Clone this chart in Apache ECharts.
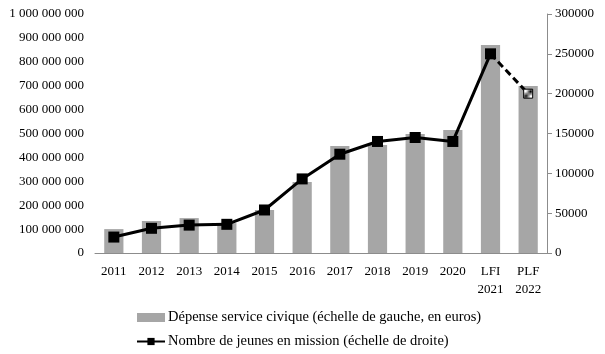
<!DOCTYPE html>
<html>
<head>
<meta charset="utf-8">
<script src="https://cdn.jsdelivr.net/npm/echarts@6/dist/echarts.min.js"></script>
<style>
  html, body { margin: 0; padding: 0; background: #fff; }
  #chart { width: 605px; height: 354px; }
</style>
</head>
<body>
<div id="chart"></div>
<script>
// données
const categories = ["2011", "2012", "2013", "2014", "2015", "2016", "2017", "2018", "2019", "2020", "LFI\n2021", "PLF\n2022"];
const depense = [100000000, 134000000, 146000000, 125000000, 180000000, 297000000, 448000000, 452000000, 498000000, 515000000, 870000000, 699000000];
const jeunes = [20000, 31000, 35000, 36000, 54000, 93000, 124000, 140000, 145000, 140000, 250000, 200000];
const leftTicks = [0, 1000000000, 100000000];
const rightTicks = [0, 300000, 50000];

const font = "Liberation Serif";

// motif hachuré pour le dernier point (prévision)
const hatch = document.createElement("canvas");
hatch.width = 4;
hatch.height = 4;
const hctx = hatch.getContext("2d");
hctx.fillStyle = "#fff";
hctx.fillRect(0, 0, 4, 4);
hctx.strokeStyle = "#000";
hctx.lineWidth = 1;
hctx.beginPath();
hctx.moveTo(0, 4); hctx.lineTo(4, 0);
hctx.moveTo(-1, 1); hctx.lineTo(1, -1);
hctx.moveTo(3, 5); hctx.lineTo(5, 3);
hctx.stroke();

const n = jeunes.length;
const lineSolid = jeunes.map((v, i) => (i < n - 1 ? v : null));
const lineDashed = jeunes.map((v, i) => (i >= n - 2 ? v : null));

const frNum = (v) => String(v).replace(/\B(?=(\d{3})+(?!\d))/g, " ");

const chart = echarts.init(document.getElementById("chart"));
chart.setOption({
    animation: false,
    textStyle: { fontFamily: font, color: "#000" },
    grid: { left: 95, right: 58, top: 14, bottom: 101 },
    legend: {
        orient: "vertical",
        left: 131,
        top: 305,
        itemGap: 9,
        itemWidth: 28,
        itemHeight: 9,
        textStyle: { fontFamily: font, fontSize: 14.5, color: "#000", padding: [0, 0, 0, -2] },
        data: [
            { name: "Dépense service civique (échelle de gauche, en euros)", icon: "rect" },
            { name: "Nombre de jeunes en mission (échelle de droite)" }
        ]
    },
    xAxis: {
        type: "category",
        data: categories,
        axisLine: { lineStyle: { color: "#8c8c8c", width: 1 } },
        axisTick: { show: false },
        axisLabel: { fontFamily: font, fontSize: 13, color: "#000", margin: 10, lineHeight: 18 }
    },
    yAxis: [
        {
            type: "value",
            min: leftTicks[0],
            max: leftTicks[1],
            interval: leftTicks[2],
            splitLine: { show: false },
            axisLine: { show: false },
            axisTick: { show: false },
            axisLabel: { fontFamily: font, fontSize: 13, color: "#000", margin: 11, formatter: frNum }
        },
        {
            type: "value",
            position: "right",
            min: rightTicks[0],
            max: rightTicks[1],
            interval: rightTicks[2],
            splitLine: { show: false },
            axisLine: { show: true, lineStyle: { color: "#8c8c8c", width: 1 } },
            axisTick: { show: true, length: 5, lineStyle: { color: "#8c8c8c" } },
            axisLabel: { fontFamily: font, fontSize: 13, color: "#000", margin: 8, formatter: (v) => String(v) }
        }
    ],
    series: [
        {
            name: "Dépense service civique (échelle de gauche, en euros)",
            type: "bar",
            data: depense,
            barWidth: "51%",
            itemStyle: { color: "#a6a6a6" }
        },
        {
            name: "Nombre de jeunes en mission (échelle de droite)",
            type: "line",
            yAxisIndex: 1,
            data: lineSolid,
            symbol: "rect",
            symbolSize: 11,
            lineStyle: { color: "#000", width: 3 },
            itemStyle: { color: "#000" },
            z: 3
        },
        {
            name: "prevision",
            type: "line",
            yAxisIndex: 1,
            data: lineDashed,
            symbol: "rect",
            symbolSize: (v, p) => (p.dataIndex === n - 1 ? 9 : 0),
            lineStyle: { color: "#000", width: 3, type: [7, 4] },
            itemStyle: { color: { image: hatch, repeat: "repeat" }, borderColor: "#000", borderWidth: 1 },
            z: 2
        }
    ]
});
</script>
</body>
</html>
